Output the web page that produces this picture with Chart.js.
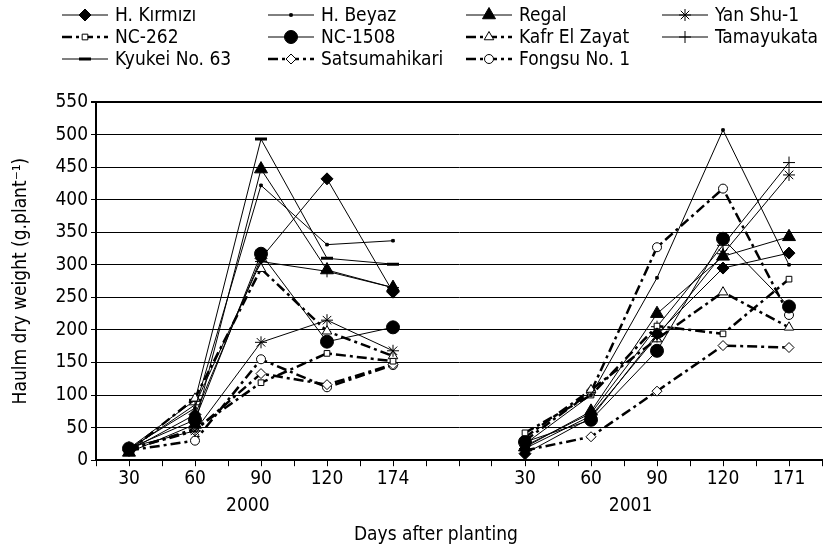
<!DOCTYPE html>
<html>
<head>
<meta charset="utf-8">
<script src="https://cdn.jsdelivr.net/npm/chart.js@4/dist/chart.umd.min.js"></script>
<style>
  html, body { margin: 0; padding: 0; background: #fff; }
  #wrap { width: 823px; height: 549px; }
</style>
</head>
<body>
<div id="wrap"><canvas id="c" width="823" height="549"></canvas></div>
<script>
// ---- data ----
const categories = ['30', '60', '90', '120', '174', '', '30', '60', '90', '120', '171'];
const years = ['2000', '2001'];
const xTitle = 'Days after planting';
const yTitle = 'Haulm dry weight (g.plant⁻¹)';
const seriesNames = ['H. Kırmızı', 'H. Beyaz', 'Regal', 'Yan Shu-1', 'NC-262', 'NC-1508',
  'Kafr El Zayat', 'Tamayukata', 'Kyukei No. 63', 'Satsumahikari', 'Fongsu No. 1'];
const hKirmizi      = [15, 70, 310, 432, 258, null, 10, 65, 194, 295, 318];
const hBeyaz        = [18, 80, 422, 331, 337, null, 25, 100, 280, 507, 300];
const regal         = [12, 55, 447, 292, 265, null, 20, 75, 225, 313, 343];
const yanShu1       = [20, 45, 181, 215, 168, null, 18, 68, 190, 317, 438];
const nc262         = [16, 48, 119, 164, 152, null, 42, 100, 206, 194, 278];
const nc1508        = [18, 62, 317, 182, 204, null, 28, 62, 168, 340, 236];
const kafrElZayat   = [14, 95, 294, 198, 160, null, 35, 108, 186, 258, 204];
const tamayukata    = [16, 85, 305, 290, 265, null, 22, 72, 205, 330, 457];
const kyukeiNo63    = [18, 92, 493, 310, 301, null, null, null, null, null, null];
const satsumahikari = [17, 45, 133, 116, 147, null, 15, 36, 106, 176, 173];
const fongsuNo1     = [15, 30, 155, 112, 146, null, 30, 105, 327, 417, 223];
const yTickMin = 0, yTickMax = 550, yTickStep = 50;

// ---- styling / layout ----
const FONT = "'DejaVu Sans Condensed', 'DejaVu Sans', sans-serif";
const FS = 19;
const yearCenters = [1.8, 7.6];        // group label centres (category units)
const xTitleCenter = 4.65;             // x title centre (category units)
const legendCols = [62, 268, 466, 662];
const legendRows = [15, 37, 59];
const legendLineLen = 46;
const DASHDOT = [10, 4, 3, 4];

function pts(vals) { return vals.map((v, i) => ({ x: i, y: v })); }

const styles = [
  { pointStyle: 'rectRot', r: 6, fill: '#000', dash: [], w: 1 },
  { pointStyle: 'rect', r: 1.8, fill: '#000', dash: [], w: 1 },
  { pointStyle: 'triangle', r: 7.5, fill: '#000', dash: [], w: 1 },
  { pointStyle: 'star', r: 6, fill: '#fff', dash: [], w: 1 },
  { pointStyle: 'rect', r: 4, fill: '#fff', dash: DASHDOT, w: 2.5 },
  { pointStyle: 'circle', r: 6.5, fill: '#000', dash: [], w: 1 },
  { pointStyle: 'triangle', r: 5.5, fill: '#fff', dash: DASHDOT, w: 2.5 },
  { pointStyle: 'cross', r: 6, fill: '#fff', dash: [], w: 1 },
  { pointStyle: 'line', r: 6, fill: '#000', dash: [], w: 1, pbw: 3 },
  { pointStyle: 'rectRot', r: 5, fill: '#fff', dash: DASHDOT, w: 2.5 },
  { pointStyle: 'circle', r: 4.5, fill: '#fff', dash: DASHDOT, w: 2.5 }
];
const seriesValues = [hKirmizi, hBeyaz, regal, yanShu1, nc262, nc1508, kafrElZayat,
  tamayukata, kyukeiNo63, satsumahikari, fongsuNo1];

const datasets = seriesValues.map((vals, i) => {
  const s = styles[i];
  return {
    label: seriesNames[i],
    data: pts(vals),
    borderColor: '#000',
    borderWidth: s.w,
    borderDash: s.dash,
    pointStyle: s.pointStyle,
    pointRadius: s.r,
    pointHoverRadius: s.r,
    pointBackgroundColor: s.fill,
    pointBorderColor: '#000',
    pointBorderWidth: s.pbw || 1,
    tension: 0,
    spanGaps: false,
    fill: false
  };
});

const legendPlugin = {
  id: 'gridLegend',
  afterDraw(chart) {
    const ctx = chart.ctx;
    chart.data.datasets.forEach((ds, i) => {
      const x0 = legendCols[i % 4], y = legendRows[Math.floor(i / 4)];
      ctx.save();
      ctx.strokeStyle = '#000';
      ctx.lineWidth = ds.borderWidth;
      ctx.setLineDash(ds.borderDash || []);
      ctx.beginPath(); ctx.moveTo(x0, y); ctx.lineTo(x0 + legendLineLen, y); ctx.stroke();
      ctx.setLineDash([]);
      ctx.fillStyle = ds.pointBackgroundColor;
      ctx.strokeStyle = '#000';
      ctx.lineWidth = ds.pointBorderWidth;
      Chart.helpers.drawPoint(ctx, { pointStyle: ds.pointStyle, radius: ds.pointRadius, rotation: 0, borderWidth: ds.pointBorderWidth }, x0 + legendLineLen / 2, y);
      ctx.fillStyle = '#000';
      ctx.font = FS + 'px ' + FONT;
      ctx.textBaseline = 'middle';
      ctx.textAlign = 'left';
      ctx.fillText(ds.label, x0 + legendLineLen + 7, y + 1);
      ctx.restore();
    });
  }
};

const axisTextPlugin = {
  id: 'axisTexts',
  afterDraw(chart) {
    const ctx = chart.ctx, xs = chart.scales.x;
    ctx.save();
    ctx.fillStyle = '#000';
    ctx.font = FS + 'px ' + FONT;
    ctx.textAlign = 'center';
    ctx.textBaseline = 'middle';
    years.forEach((y, k) => ctx.fillText(y, xs.getPixelForValue(yearCenters[k]), 506));
    ctx.fillText(xTitle, xs.getPixelForValue(xTitleCenter), 535);
    ctx.restore();
  }
};

new Chart(document.getElementById('c'), {
  type: 'line',
  data: { datasets },
  plugins: [legendPlugin, axisTextPlugin],
  options: {
    responsive: false,
    animation: false,
    events: [],
    layout: { autoPadding: false, padding: { top: 102, right: 0, left: 0, bottom: 58 } },
    plugins: { legend: { display: false }, tooltip: { enabled: false } },
    scales: {
      x: {
        type: 'linear',
        min: -0.5, max: 10.5,
        afterBuildTicks(scale) {
          const t = [];
          for (let v = -0.5; v <= 10.5 + 1e-9; v += 0.5) t.push({ value: v });
          scale.ticks = t;
        },
        ticks: {
          autoSkip: false, maxRotation: 0, padding: 1,
          color: '#000', font: { family: FONT, size: FS },
          callback: (v) => Number.isInteger(v) ? categories[v] : ''
        },
        grid: { drawOnChartArea: false, drawTicks: true, tickLength: 6, color: '#000', lineWidth: 1 },
        border: { color: '#000', width: 2 }
      },
      y: {
        min: yTickMin, max: yTickMax,
        afterFit(scale) { scale.width = 96; },
        ticks: { stepSize: yTickStep, color: '#000', font: { family: FONT, size: FS }, padding: 3 },
        grid: { color: '#000', lineWidth: (c) => (c.tick && c.tick.value === yTickMax ? 2 : 1), tickLength: 5 },
        border: { color: '#000', width: 2 },
        title: { display: true, text: yTitle, color: '#000', font: { family: FONT, size: FS }, padding: { top: 10, bottom: 0 } }
      }
    }
  }
});
</script>
</body>
</html>
